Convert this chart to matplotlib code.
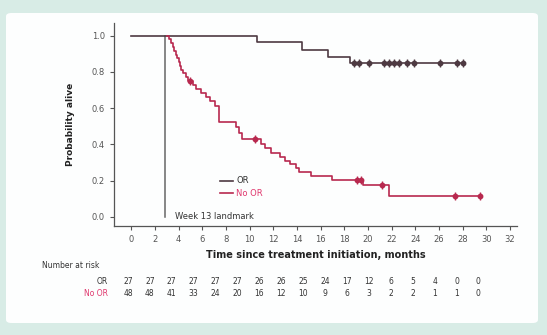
import matplotlib
matplotlib.use("Agg")
import matplotlib.pyplot as plt
from matplotlib.patches import FancyBboxPatch
import numpy as np

# OR group (step curve)
or_t = [0, 10.65, 14.4, 16.6, 18.5, 28.1]
or_s = [1.0, 0.963, 0.922, 0.885, 0.851, 0.851]
or_cens = [18.8, 19.25, 20.1, 21.35, 21.8, 22.2, 22.6, 23.3, 23.9, 26.1, 27.55, 28.0]

# No OR group (starts at the week 13 landmark)
nor_t = [3.0, 3.2, 3.35, 3.5, 3.6, 3.75, 3.9, 4.0, 4.1, 4.2, 4.35, 4.6, 4.8,
         5.2, 5.5, 5.9, 6.3, 6.7, 7.1, 7.4, 8.9, 9.1, 9.4, 11.0, 11.3, 11.8,
         12.6, 13.0, 13.4, 13.9, 14.2, 15.2, 17.0, 19.6, 21.75, 29.5]
nor_s = [1.0, 0.979, 0.958, 0.938, 0.917, 0.896, 0.875, 0.854, 0.833, 0.813,
         0.792, 0.771, 0.750, 0.728, 0.706, 0.683, 0.660, 0.637, 0.614, 0.522,
         0.495, 0.465, 0.432, 0.405, 0.378, 0.355, 0.333, 0.31, 0.29, 0.27,
         0.25, 0.228, 0.205, 0.178, 0.115, 0.115]
nor_cens = [4.95, 10.5, 19.1, 19.4, 21.2, 27.4, 29.5]

landmark = 2.85

risk_months = list(range(0, 33, 2))
risk_or = [27, 27, 27, 27, 27, 27, 26, 26, 25, 24, 17, 12, 6, 5, 4, 0, 0]
risk_nor = [48, 48, 41, 33, 24, 20, 16, 12, 10, 9, 6, 3, 2, 2, 1, 1, 0]

c_or = "#4e3a42"
c_nor = "#b8294f"
c_nor_txt = "#e0386e"
c_txt = "#555555"

W, H = 547, 335
fig = plt.figure(figsize=(W / 100, H / 100), dpi=100, facecolor="#d8ece6")

# white card
card = FancyBboxPatch((6 / W, 12 / H), 532 / W, 310 / H,
                      boxstyle="round,pad=0,rounding_size=0.01",
                      transform=fig.transFigure, facecolor="#fdfefe",
                      edgecolor="none", zorder=-10)
fig.patches.append(card)

ax = fig.add_axes([114 / W, 109 / H, 403 / W, 203 / H])
ax.set_zorder(5)
ax.set_facecolor("none")
ax.set_xlim(-1.45, 32.6)
ax.set_ylim(-0.05, 1.07)

ax.plot(or_t, or_s, drawstyle="steps-post", color=c_or, lw=1.2, zorder=3)
ax.plot(nor_t, nor_s, drawstyle="steps-post", color=c_nor, lw=1.2, zorder=3)

# censor marks
or_cy = np.interp(or_cens, or_t, or_s)
idx = np.searchsorted(nor_t, nor_cens, side="right") - 1
nor_cy = np.array(nor_s)[idx]
for cx, cy, col in [(or_cens, or_cy, c_or), (nor_cens, nor_cy, c_nor)]:
    ax.plot(cx, cy, ls="none", marker="o", ms=3.2, color=col, zorder=4)
    ax.plot(cx, cy, ls="none", marker="|", ms=6, mew=1.0, color=col, zorder=4)

ax.plot([landmark, landmark], [0, 1.0], color="#666666", lw=1.1, zorder=2)
ax.text(landmark + 0.85, 0.0, "Week 13 landmark", fontsize=6, color="#333333",
        va="center", ha="left")

# legend
ax.plot([7.5, 8.6], [0.2, 0.2], color=c_or, lw=1.2)
ax.plot([7.5, 8.6], [0.13, 0.13], color=c_nor, lw=1.2)
ax.text(8.9, 0.2, "OR", fontsize=6, color="#333333", va="center")
ax.text(8.9, 0.13, "No OR", fontsize=6, color=c_nor_txt, va="center")

for s in ["top", "right"]:
    ax.spines[s].set_visible(False)
for s in ["left", "bottom"]:
    ax.spines[s].set_color("#555555")
    ax.spines[s].set_linewidth(0.9)

ax.set_xticks(risk_months)
ax.set_yticks(np.arange(0, 1.01, 0.2))
ax.set_yticklabels([f"{v:.1f}" for v in np.arange(0, 1.01, 0.2)])
ax.tick_params(axis="both", labelsize=6, colors=c_txt, length=3, width=0.8)
ax.set_xlabel("Time since treatment initiation, months", fontsize=7,
              fontweight="bold", color="#222222", labelpad=4)
ax.set_ylabel("Probability alive", fontsize=6.5, fontweight="bold",
              color="#222222", labelpad=12)

# number at risk table (figure pixel coords)
def fx(px):
    return px / W

def fy(py):
    return 1 - py / H

fig.text(fx(42), fy(266), "Number at risk", fontsize=5.5, color="#333333",
         va="center")
fig.text(fx(108), fy(282), "OR", fontsize=5.5, color="#333333", va="center",
         ha="right")
fig.text(fx(108), fy(293), "No OR", fontsize=5.5, color=c_nor_txt,
         va="center", ha="right")
for i, (a, b) in enumerate(zip(risk_or, risk_nor)):
    x = 128 + i * 21.9
    fig.text(fx(x), fy(282), str(a), fontsize=5.5, color="#333333",
             va="center", ha="center")
    fig.text(fx(x), fy(293), str(b), fontsize=5.5, color="#333333",
             va="center", ha="center")

fig.savefig("out.png", dpi=100, facecolor=fig.get_facecolor())
